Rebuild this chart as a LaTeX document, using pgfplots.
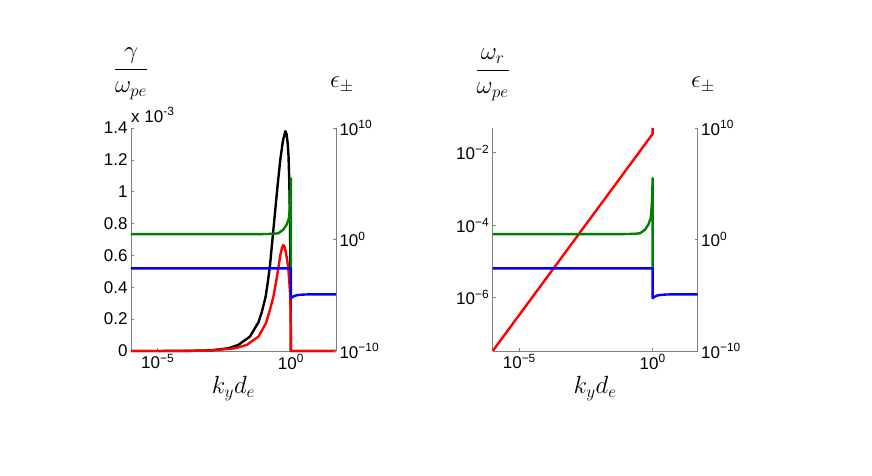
\documentclass[border=0pt]{standalone}
\usepackage{fontspec}
\setmainfont{Liberation Sans}
\usepackage{pgfplots}
\pgfplotsset{compat=1.18}

% left panel, left axis: growth rate (units of 1e-3)
\pgfplotstableread{
k        g
1e-6     0
1e-4     0.0005
1e-3     0.004
4.47e-3  0.017
1.05e-2  0.038
2.88e-2  0.09
6.03e-2  0.18
7.94e-2  0.24
0.112    0.34
0.135    0.43
0.162    0.53
0.219    0.76
0.263    0.9
0.316    1.04
0.398    1.2
0.501    1.32
0.617    1.38
0.692    1.36
0.759    1.3
0.813    1.22
0.871    1.05
0.923    0.8
0.966    0.45
1.0      0
49       0
}\blacktab
\pgfplotstableread{
k        g
1e-6     0
1e-4     0.0003
1e-3     0.003
7.94e-3  0.017
2.19e-2  0.038
6.03e-2  0.09
0.115    0.174
0.158    0.25
0.219    0.34
0.275    0.43
0.335    0.52
0.398    0.6
0.457    0.645
0.513    0.665
0.575    0.655
0.646    0.62
0.724    0.57
0.794    0.52
0.871    0.43
0.944    0.34
0.977    0.2
1.0      0
49       0
}\redtab
% epsilon_+ and epsilon_-
\pgfplotstableread{
k        e
1e-6     3.05
0.1      3.08
0.2      3.2
0.335    3.6
0.513    7.5
0.692    22
0.841    80
0.871    180
0.944    2500
0.977    3e4
0.995    3.16e5
1.0      3.16e5
1.0      2.6e-3
}\greentab
\pgfplotstableread{
k        e
1e-6     2.6e-3
1.0      2.6e-3
1.0      5.4e-6
1.2      7.5e-6
1.5      9.5e-6
2        1.08e-5
3        1.15e-5
5        1.2e-5
49       1.2e-5
}\bluetab
% right panel, left axis: real frequency
\pgfplotstableread{
k        w
1e-6     3.4e-8
1.0      3.3e-2
1.0      4.8e-2
}\wrtab

\pgfplotsset{
  myax/.style={
    scale only axis, width=205pt, height=223pt,
    xminorticks=false, yminorticks=false,
    axis line style={draw=gray, line width=0.8pt, -},
    tick style={gray, line width=0.6pt},
    major tick length=3pt, tick align=inside,
    ticklabel style={font=\fontsize{17}{20}\selectfont},
    clip=false,
  },
}

\begin{document}
\begin{tikzpicture}[x=1pt,y=1pt]
\path[use as bounding box, fill=white] (0,0) rectangle (872,476);

% ---- left panel ----
\begin{axis}[myax, xmode=log, xmin=1e-6, xmax=49,
  at={(131pt,125pt)}, anchor=south west,
  axis x line*=bottom, axis y line*=left,
  ymin=0, ymax=1.4,
  ytick={0,0.2,0.4,0.6,0.8,1,1.2,1.4},
  yticklabels={0,0.2,0.4,0.6,0.8,1,1.2,1.4},
  xtick={1e-5,1}, xticklabels={10\textsuperscript{−5},10\textsuperscript{0}},
  xlabel={$k_y d_e$}, xlabel style={font=\fontsize{23}{27}\selectfont}]
\addplot[line width=2.4pt, line join=round, black] table[x=k, y=g] {\blacktab};
\addplot[line width=2.4pt, line join=round, red] table[x=k, y=g] {\redtab};
\end{axis}
\begin{axis}[myax, xmode=log, xmin=1e-6, xmax=49,
  at={(131pt,125pt)}, anchor=south west,
  axis x line=none, axis y line*=right,
  ymode=log, ymin=1e-10, ymax=1e10,
  ytick={1e-10,1,1e10},
  yticklabels={10\textsuperscript{−10},10\textsuperscript{0},10\textsuperscript{10}}]
\addplot[line width=2.4pt, line join=round, green!50!black] table[x=k, y=e] {\greentab};
\addplot[line width=2.4pt, line join=round, blue] table[x=k, y=e] {\bluetab};
\end{axis}
\node at (131,402) {\fontsize{23}{27}\selectfont $\displaystyle\frac{\gamma}{\omega_{pe}}$};
\node at (342,391) {\fontsize{23}{27}\selectfont $\epsilon_\pm$};
\node[anchor=west, inner sep=0pt] at (131,361) {\fontsize{17}{20}\selectfont x 10\textsuperscript{-3}};

% ---- right panel ----
\begin{axis}[myax, xmode=log, xmin=1e-6, xmax=49,
  at={(492.7pt,125pt)}, anchor=south west,
  axis x line*=bottom, axis y line*=left,
  ymode=log, ymin=3.39e-8, ymax=0.048,
  ytick={1e-6,1e-4,1e-2},
  yticklabels={10\textsuperscript{−6},10\textsuperscript{−4},10\textsuperscript{−2}},
  xtick={1e-5,1}, xticklabels={10\textsuperscript{−5},10\textsuperscript{0}},
  xlabel={$k_y d_e$}, xlabel style={font=\fontsize{23}{27}\selectfont}]
\addplot[line width=2.4pt, red] table[x=k, y=w] {\wrtab};
\end{axis}
\begin{axis}[myax, xmode=log, xmin=1e-6, xmax=49,
  at={(492.7pt,125pt)}, anchor=south west,
  axis x line=none, axis y line*=right,
  ymode=log, ymin=1e-10, ymax=1e10,
  ytick={1e-10,1,1e10},
  yticklabels={10\textsuperscript{−10},10\textsuperscript{0},10\textsuperscript{10}}]
\addplot[line width=2.4pt, line join=round, green!50!black] table[x=k, y=e] {\greentab};
\addplot[line width=2.4pt, line join=round, blue] table[x=k, y=e] {\bluetab};
\end{axis}
\node at (492.7,401) {\fontsize{23}{27}\selectfont $\displaystyle\frac{\omega_r}{\omega_{pe}}$};
\node at (703,391) {\fontsize{23}{27}\selectfont $\epsilon_\pm$};
\end{tikzpicture}
\end{document}
